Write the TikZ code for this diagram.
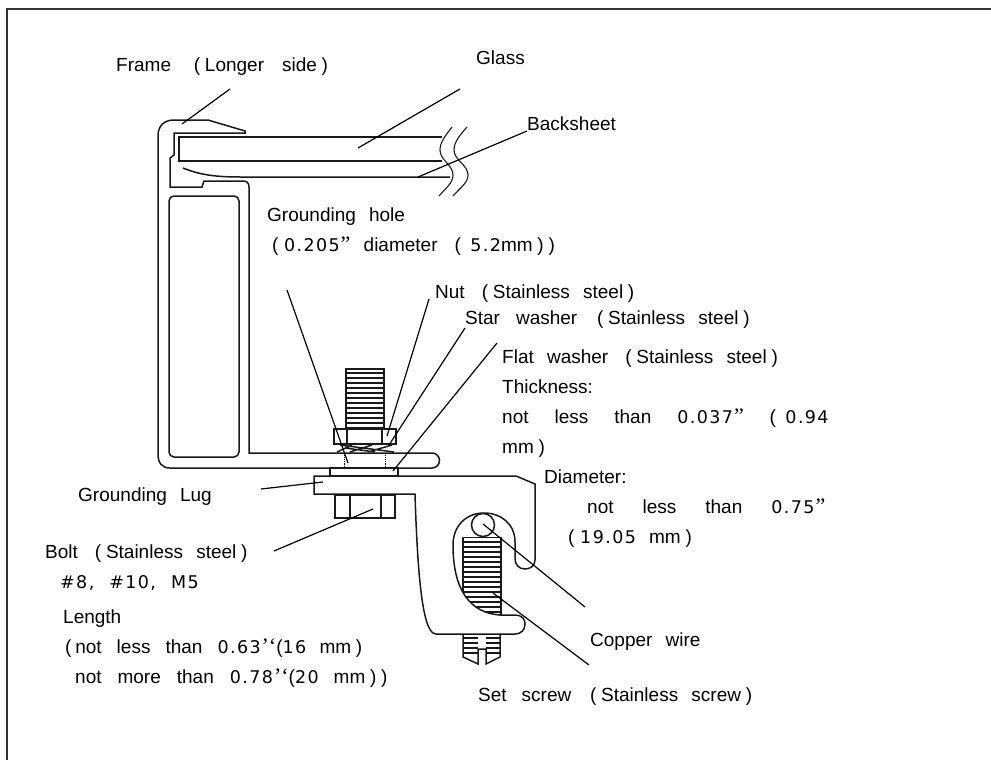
\documentclass[tikz,border=0pt]{standalone}
\usepackage{fontspec}
\setmainfont{Liberation Sans}[WordSpace=2.5]
\newfontfamily\numfont[LetterSpace=8]{DejaVu Sans}
\newfontfamily\quotefont{Liberation Serif}
\newcommand{\nm}[1]{{\fontsize{17.5}{20}\numfont #1}}
\newcommand{\qt}[1]{{\fontsize{22}{22}\quotefont\kern1pt #1}}
\newcommand{\lp}{\kern.2em(\kern.25em}
\newcommand{\lpn}{\kern.2em(\kern.5em}
\newcommand{\rp}{\kern.25em)}
\tikzset{
  part/.style={line width=1.5pt, black!90},
  leader/.style={line width=1.2pt, black},
  thread/.style={line width=1.3pt, black!90},
  lbl/.style={anchor=west, inner sep=0pt, yshift=-1pt, font=\fontsize{19}{22}\selectfont, text height=13.5pt, text depth=3.5pt},
}
\begin{document}
\begin{tikzpicture}[x=1pt,y=-1pt]
    \useasboundingbox (0,0) rectangle (991,760);
    % sheet edge
    \draw[line width=2pt, black!80] (7,760) -- (7,9) -- (991,9);
    % frame section
    \draw[part] (245,131) -- (208,120) -- (174,120) .. controls (164,120) and (158,126) .. (158,136) -- (158,454) .. controls (158,463) and (162,468) .. (170,468) -- (432,468) arc[start angle=90,end angle=-90,radius=7.5] -- (249,453) -- (249,187) .. controls (249,183) and (247,181) .. (243,181) -- (204,181) -- (202,187) -- (170,187) -- (170,158) -- (174,155) -- (174,133) -- (245,133) -- cycle;
    \draw[part, rounded corners=5pt] (169,196) rectangle (239,457);
    % glass and backsheet
    \draw[part] (442,137) -- (179,137) -- (179,161) -- (442,161);
    \draw[part] (183,168) .. controls (198,174) and (212,177) .. (240,177) -- (450,177);
    % break lines
    \draw[part, line width=1.1pt] (452,127) .. controls (446,135) and (440,142) .. (440,150) .. controls (440,160) and (453,165) .. (453,175) .. controls (453,183) and (446,188) .. (439,196);
    \draw[part, line width=1.1pt] (467,127) .. controls (460,135) and (454,142) .. (454,150) .. controls (454,160) and (468,165) .. (468,175) .. controls (468,183) and (460,188) .. (453,196);
    % bolt shank and threads
    \draw[part] (346,429) -- (346,369) -- (384,369) -- (384,429);
    \foreach \y in {373,378,...,428} {
        \draw[thread] (346,\y) -- (384,\y);
    }
    % nut
    \draw[part] (334,429) rectangle (396,444);
    \draw[part] (347,429) -- (347,444) (382,429) -- (382,444);
    % star washer
    \draw[part] (337,452) -- (352,445) (340,445) -- (394,452) (350,452) -- (372,445) (368,452) -- (392,445) (345,448) -- (375,452);
    % hole
    \draw[densely dotted, line width=.9pt] (344,453) -- (344,468) (385,453) -- (385,468);
    % flat washer
    \draw[part] (330,468) rectangle (398,476);
    % bolt head
    \draw[part] (335,495) rectangle (395,518);
    \draw[part] (350,495) -- (350,518) (381,495) -- (381,518);
    % lug
    \draw[part] (314,476) -- (516,476) -- (535,484) -- (535,560) .. controls (535,566) and (530,569) .. (525,569) .. controls (519,569) and (515,565) .. (515,558) -- (515,542) .. controls (515,524) and (501,513) .. (484,513) .. controls (466,513) and (453,526) .. (453,545) .. controls (453,590) and (470,613) .. (500,615) -- (515,615) .. controls (522,615) and (525,619) .. (525,624) .. controls (525,630) and (521,634) .. (515,634) -- (436,634) .. controls (424,634) and (418,590) .. (415,494) -- (314,494) -- cycle;
    % copper wire
    \draw[part] (483,525) circle (11.5);
    % set screw, cut by the lug
    \begin{scope}
        \clip (463,537) -- (501,537) -- (501,616) -- (500,615) .. controls (470,613) and (453,590) .. (453,545) -- cycle;
        \draw[part] (463,537) -- (463,600);
        \foreach \y in {537,542,...,612} {
            \draw[thread] (463,\y) -- (501,\y);
        }
    \end{scope}
    \draw[part] (501,537) -- (501,615);
    % screw end with slot
    \foreach \y in {638,643,648,653} {
        \draw[thread] (463,\y) -- (478,\y) (486,\y) -- (500,\y);
    }
    \draw[part] (463,634) -- (463,657) -- (478,664) -- (478,649) -- (486,649) -- (486,664) -- (500,657) -- (500,634);
    % labels
    \node[lbl] (frame) at (116,65) {Frame\hspace{19pt}\lp Longer\hspace{18pt}side\rp};
    \node[lbl] (glass) at (476,59) {Glass};
    \node[lbl] (backsheet) at (527,124) {Backsheet};
    \node[lbl] (hole) at (267,215) {Grounding hole};
    \node[lbl] (holedia) at (268,245) {\lpn\kern-.2em\nm{0.205}\qt{”} diameter \lpn\nm{5.2}mm\rp\rp};
    \node[lbl] (nut) at (435,292) {Nut \lp Stainless steel\rp};
    \node[lbl] (star) at (465,318) {Star\hspace{16pt}washer\hspace{16pt}\lp Stainless steel\rp};
    \node[lbl] (flat) at (502,357) {Flat washer \lp Stainless steel\rp};
    \node[lbl] (thick) at (502,387) {Thickness:};
    \node[lbl] (thicka) at (502,417) {not\hspace{26pt}less\hspace{26pt}than\hspace{26pt}\nm{0.037}\qt{”}\hspace{22pt}\lpn\nm{0.94}};
    \node[lbl] (thickb) at (502,447) {mm\rp};
    \node[lbl] (dia) at (544,477) {Diameter:};
    \node[lbl] (diaa) at (587,507) {not\hspace{29pt}less\hspace{29pt}than\hspace{29pt}\nm{0.75}\qt{”}};
    \node[lbl] (diab) at (568,537) {(\kern.3em\nm{19.05} mm\rp};
    \node[lbl] (lug) at (78,495) {Grounding Lug};
    \node[lbl] (bolt) at (45,552) {Bolt \lp Stainless steel\rp};
    \node[lbl] (size) at (60,582) {\nm{\#8,}\hspace{15pt}\nm{\#10,}\hspace{15pt}\nm{M5}};
    \node[lbl] (len) at (63,617) {Length};
    \node[lbl] (lena) at (65,647) {(\kern.2em not\hspace{15pt}less\hspace{15pt}than\hspace{15pt}\nm{0.63}\qt{’‘}(\nm{16} mm\rp};
    \node[lbl] (lenb) at (75,677) {not\hspace{16pt}more\hspace{16pt}than\hspace{16pt}\nm{0.78}\qt{’‘}(\nm{20}\hspace{15pt}mm\rp\rp};
    \node[lbl] (wire) at (590,640) {Copper wire};
    \node[lbl] (screw) at (478,695) {Set\hspace{15pt}screw\hspace{15pt}\lp Stainless screw\rp};
    % leader ends
    \coordinate (framea) at (182,124);
    \coordinate (frameb) at (230,89);
    \coordinate (glassa) at (358,148);
    \coordinate (glassb) at (460,89);
    \coordinate (backa) at (418,177);
    \coordinate (backb) at (527,131);
    \coordinate (holea) at (348,463);
    \coordinate (holeb) at (287,290);
    \coordinate (nuta) at (387,436);
    \coordinate (nutb) at (429,299);
    \coordinate (stara) at (389,445);
    \coordinate (starb) at (465,328);
    \coordinate (flata) at (393,471);
    \coordinate (flatb) at (497,343);
    \coordinate (luga) at (323,482);
    \coordinate (lugb) at (261,489);
    \coordinate (bolta) at (373,509);
    \coordinate (boltb) at (274,551);
    \coordinate (wirea) at (483,524);
    \coordinate (wireb) at (585,607);
    \coordinate (screwa) at (493,593);
    \coordinate (screwb) at (589,665);
    % leaders
    \foreach \a/\b in {framea/frameb,glassa/glassb,backa/backb,holea/holeb,nuta/nutb,stara/starb,flata/flatb,luga/lugb,bolta/boltb,wirea/wireb,screwa/screwb} {
        \draw[leader] (\a) -- (\b);
    }
\end{tikzpicture}
\end{document}
